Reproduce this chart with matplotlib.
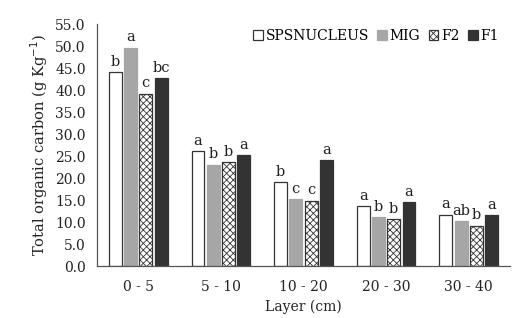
import numpy as np
import matplotlib
matplotlib.use('Agg')
import matplotlib.pyplot as plt

plt.rcParams['font.family'] = ['DejaVu Serif']
plt.rcParams['hatch.linewidth'] = 0.6

layers = ['0 - 5', '5 - 10', '10 - 20', '20 - 30', '30 - 40']
series = ['SPSNUCLEUS', 'MIG', 'F2', 'F1']
sps = [44.0, 26.1, 19.0, 13.6, 11.7]
mig = [49.6, 23.0, 15.2, 11.1, 10.2]
f2 = [39.2, 23.6, 14.8, 10.6, 9.2]
f1 = [42.7, 25.2, 24.0, 14.5, 11.5]
# significance letters, one list per series across the layers
sps_letters = ['b', 'a', 'b', 'a', 'a']
mig_letters = ['a', 'b', 'c', 'b', 'ab']
f2_letters = ['c', 'b', 'c', 'b', 'b']
f1_letters = ['bc', 'a', 'a', 'a', 'a']

styles = [
    dict(facecolor='white', edgecolor='#333333', hatch=None),
    dict(facecolor='#a6a6a6', edgecolor='#a6a6a6', hatch=None),
    dict(facecolor='white', edgecolor='#333333', hatch='xxxxx'),
    dict(facecolor='#333333', edgecolor='#333333', hatch=None),
]

fig = plt.figure(figsize=(5.21, 3.18), dpi=100)
ax = fig.add_axes([0.186, 0.1635, 0.793, 0.761])

x = np.arange(len(layers))
step = 0.185
width = 0.155
all_vals = [sps, mig, f2, f1]
all_letters = [sps_letters, mig_letters, f2_letters, f1_letters]
for i, name in enumerate(series):
    pos = x + (i - 1.5) * step
    ax.bar(pos, all_vals[i], width, label=name, linewidth=0.9, **styles[i])
    for p, v, t in zip(pos, all_vals[i], all_letters[i]):
        ax.text(p, v + 0.8, t, ha='center', va='bottom', fontsize=10.5, color='#222222')

ax.set_xlim(-0.5, len(layers) - 0.5)
ax.set_ylim(0, 55)
ax.set_yticks(np.arange(0, 55.1, 5))
ax.set_yticklabels([f'{v:.1f}' for v in np.arange(0, 55.1, 5)])
ax.set_xticks(x)
ax.set_xticklabels(layers)
ax.tick_params(axis='both', length=0, labelsize=10, colors='#222222', pad=8)
ax.tick_params(axis='x', pad=10)
for s in ['top', 'right']:
    ax.spines[s].set_visible(False)
for s in ['left', 'bottom']:
    ax.spines[s].set_color('#555555')
    ax.spines[s].set_linewidth(0.9)

ax.set_ylabel('Total organic carbon (g Kg$^{-1}$)', fontsize=10.5, color='#222222')
ax.set_xlabel('Layer (cm)', fontsize=10, color='#222222', labelpad=4)

ax.legend(loc='upper right', bbox_to_anchor=(0.99, 1.01), ncol=4, frameon=False,
          fontsize=10, handlelength=0.7, handleheight=0.7, handletextpad=0.2,
          columnspacing=0.6, borderaxespad=0.1)

fig.savefig('out.png', dpi=100)
